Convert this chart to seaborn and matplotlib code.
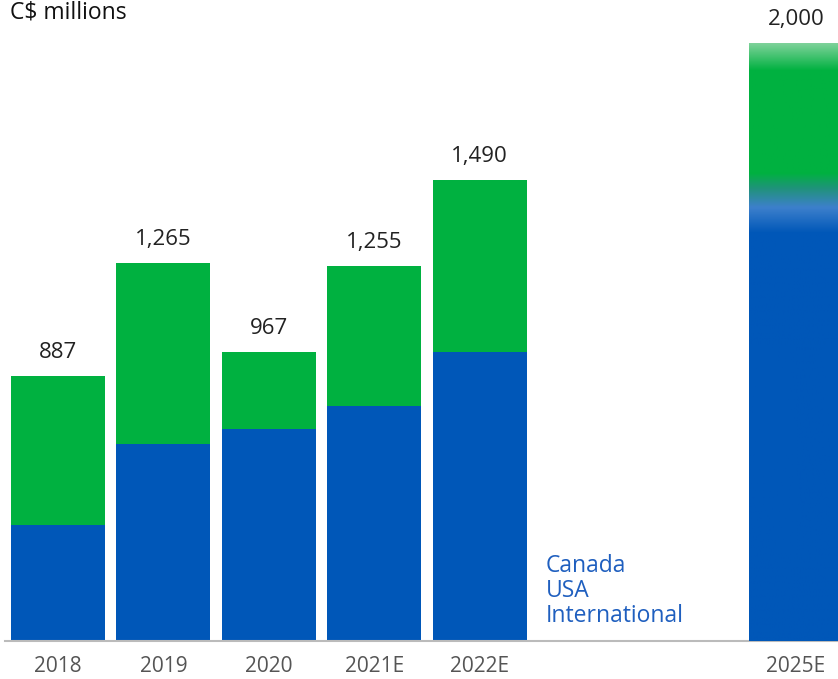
import numpy as np
import pandas as pd
import matplotlib
matplotlib.use("Agg")
import matplotlib.pyplot as plt
import seaborn as sns
from matplotlib.colors import to_rgb

# ---- data ----
years = ["2018", "2019", "2020", "2021E", "2022E", "2025E"]
blue_vals = [388, 659, 710, 786, 967, 1476]
green_vals = [499, 606, 257, 469, 576, 524]
totals = ["887", "1,265", "967", "1,255", "1,490", "2,000"]
legend_labels = ["Canada", "USA", "International"]
unit_label = "C$ millions"

BLUE = "#0057B8"
GREEN = "#00B140"

sns.set_theme(style="white")
plt.rcParams["font.family"] = ["Open Sans", "DejaVu Sans"]

order = ["2018", "2019", "2020", "2021E", "2022E", "gap1", "gap2", "2025E"]
df = pd.DataFrame({"year": years,
                   "blue": blue_vals,
                   "total": [b + g for b, g in zip(blue_vals, green_vals)]})

fig = plt.figure(figsize=(8.38, 6.79), dpi=100)
ax = fig.add_axes([5.25 / 838, 38 / 679, 1 - 5.25 / 838, 598 / 679])

W = 0.89
sns.barplot(data=df, x="year", y="total", order=order, color=GREEN,
            width=W, saturation=1, linewidth=0, ax=ax)
sns.barplot(data=df, x="year", y="blue", order=order, color=BLUE,
            width=W, saturation=1, linewidth=0, ax=ax)

# gradient overlay for the 2025E bar
pos = order.index("2025E")
tot25 = df.loc[df.year == "2025E", "total"].iloc[0]
b25 = df.loc[df.year == "2025E", "blue"].iloc[0]
n = 600
ys = np.linspace(0, tot25, n)
g = np.array(to_rgb(GREEN)); b = np.array(to_rgb(BLUE))
lg = np.array(to_rgb("#7ED29A")); lb = np.array(to_rgb("#3D80CC"))
teal = np.array(to_rgb("#22917F"))
cols = np.zeros((n, 3))
span_hi = 90  # top fade
for i, y in enumerate(ys):
    if y >= tot25 - span_hi:
        t = (y - (tot25 - span_hi)) / span_hi
        c = g * (1 - t) + lg * t
    elif y > b25 + 90:
        c = g
    elif y > b25 + 35:
        t = (b25 + 90 - y) / 55
        c = g * (1 - t) + teal * t
    elif y > b25 - 25:
        t = (b25 + 35 - y) / 60
        c = teal * (1 - t) + lb * t
    elif y > b25 - 110:
        t = (b25 - 25 - y) / 85
        c = lb * (1 - t) + b * t
    else:
        c = b
    cols[i] = c
ax.imshow(cols[:, None, :], extent=[pos - W / 2, pos + W / 2, 0, tot25],
          origin="lower", aspect="auto", zorder=3, interpolation="bilinear")

# total labels
for yr, lab, t in zip(df.year, totals, df.total):
    ax.annotate(lab, (order.index(yr), t), xytext=(0, 17), textcoords="offset points",
                ha="center", va="center", fontsize=16, color="#222222")

ax.set_xlim(-0.5, 7.40)
ax.set_ylim(0, 2001)
ax.set_xlabel("")
ax.set_ylabel("")
ax.set_yticks([])
ax.set_xticks([order.index(y) for y in years])
ax.set_xticklabels(years, fontsize=15, color="#555555")
ax.tick_params(axis="x", length=0, pad=11)
for s in ["top", "left", "right"]:
    ax.spines[s].set_visible(False)
ax.spines["bottom"].set_color("#BBBBBB")
ax.spines["bottom"].set_linewidth(1.5)

for i, lab in enumerate(legend_labels):
    fig.text(546 / 838, 1 - (566 + 25 * i) / 679, lab, ha="left", va="center",
             fontsize=16.5, color="#1F5FBF")

fig.text(10 / 838, 1 - 12 / 679, unit_label, ha="left", va="center",
         fontsize=16.5, color="#111111")

fig.savefig("out.png", dpi=100)
